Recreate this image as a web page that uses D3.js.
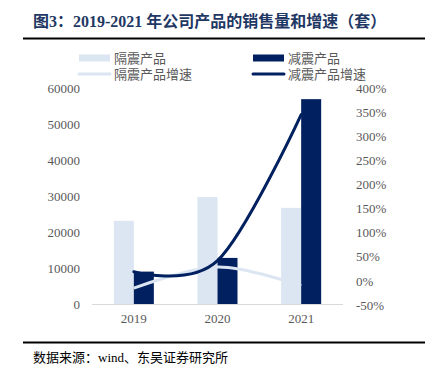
<!DOCTYPE html>
<html>
<head>
<meta charset="utf-8">
<script src="https://cdn.jsdelivr.net/npm/d3@7"></script>
<style>
  body { margin: 0; background: #fff; }
  text { font-family: "Liberation Serif", "Noto Sans CJK SC", serif; }
</style>
</head>
<body>
<script>
const w = 434;
const h = 376;

const years = ["2019", "2020", "2021"];
const isoSales = [23100, 29700, 26700];      // 隔震产品
const dampSales = [9000, 12800, 56900];      // 减震产品
const isoGrowth = [-15, 28.6, -10.1];        // 隔震产品增速 (%)
const dampGrowth = [19, 42, 345];            // 减震产品增速 (%)
const leftTicks = [0, 10000, 20000, 30000, 40000, 50000, 60000];
const rightTicks = [-50, 0, 50, 100, 150, 200, 250, 300, 350, 400];

const light = "#dce6f2";
const dark = "#002060";
const grey = "#595959";

const svg = d3.select("body")
  .append("svg")
  .attr("width", w)
  .attr("height", h);

// title + rules
svg.append("text")
  .attr("x", 33).attr("y", 27)
  .attr("font-size", 16).attr("font-weight", "bold")
  .attr("fill", "#1f3864")
  .text("图3：2019-2021 年公司产品的销售量和增速（套）");

svg.append("line").attr("x1", 23).attr("x2", 425).attr("y1", 38.5).attr("y2", 38.5)
  .attr("stroke", "#000").attr("stroke-width", 2);
svg.append("line").attr("x1", 23).attr("x2", 425).attr("y1", 342.5).attr("y2", 342.5)
  .attr("stroke", "#000").attr("stroke-width", 2);

svg.append("text")
  .attr("x", 33).attr("y", 362)
  .attr("font-size", 13).attr("fill", "#000")
  .text("数据来源：wind、东吴证券研究所");

// scales
const x = d3.scaleBand().domain(years).range([92, 343]);
const yL = d3.scaleLinear().domain([0, 60000]).range([304, 88]);
const yR = d3.scaleLinear().domain([-50, 400]).range([305, 88]);
const bw = 20;

// bars
svg.append("g").selectAll("rect")
  .data(years)
  .enter().append("rect")
  .attr("x", d => x(d) + x.bandwidth() / 2 - bw)
  .attr("y", (d, i) => yL(isoSales[i]))
  .attr("width", bw)
  .attr("height", (d, i) => yL(0) - yL(isoSales[i]))
  .attr("fill", light);

svg.append("g").selectAll("rect")
  .data(years)
  .enter().append("rect")
  .attr("x", d => x(d) + x.bandwidth() / 2)
  .attr("y", (d, i) => yL(dampSales[i]))
  .attr("width", bw)
  .attr("height", (d, i) => yL(0) - yL(dampSales[i]))
  .attr("fill", dark);

// baseline
svg.append("line")
  .attr("x1", 92).attr("x2", 343)
  .attr("y1", yL(0) + 0.5).attr("y2", yL(0) + 0.5)
  .attr("stroke", "#d9d9d9");

// growth lines
const lineGen = arr => d3.line()
  .x((d, i) => x(years[i]) + x.bandwidth() / 2)
  .y(d => yR(d))
  .curve(d3.curveCatmullRom.alpha(0))(arr);

svg.append("path").attr("d", lineGen(isoGrowth))
  .attr("fill", "none").attr("stroke", light).attr("stroke-width", 3);
svg.append("path").attr("d", lineGen(dampGrowth))
  .attr("fill", "none").attr("stroke", dark).attr("stroke-width", 3)
  .attr("stroke-linecap", "round");

// axes
const axL = svg.append("g")
  .attr("transform", "translate(80,0)")
  .call(d3.axisLeft(yL).tickValues(leftTicks).tickSize(0).tickPadding(0)
    .tickFormat(d3.format("d")));
const axR = svg.append("g")
  .attr("transform", "translate(356,0)")
  .call(d3.axisRight(yR).tickValues(rightTicks).tickSize(0).tickPadding(0)
    .tickFormat(d => d + "%"));
const axX = svg.append("g")
  .attr("transform", "translate(0,314)")
  .call(d3.axisBottom(x).tickSize(0).tickPadding(0));

[axL, axR, axX].forEach(a => {
  a.select(".domain").remove();
  a.selectAll("text").attr("font-size", 13).attr("fill", grey)
    .attr("font-family", "Liberation Serif");
});
axX.selectAll("text").attr("dy", "0.71em");

// legend
const legend = svg.append("g").attr("font-size", 13).attr("fill", grey);
const items = [
  { label: "隔震产品", color: light, kind: "rect", x: 79, y: 58 },
  { label: "减震产品", color: dark, kind: "rect", x: 253, y: 58 },
  { label: "隔震产品增速", color: light, kind: "line", x: 79, y: 74 },
  { label: "减震产品增速", color: dark, kind: "line", x: 253, y: 74 }
];
items.forEach(it => {
  if (it.kind === "rect") {
    legend.append("rect").attr("x", it.x).attr("y", it.y - 3.5)
      .attr("width", 31).attr("height", 7).attr("fill", it.color);
  } else {
    legend.append("line").attr("x1", it.x).attr("x2", it.x + 31)
      .attr("y1", it.y).attr("y2", it.y)
      .attr("stroke", it.color).attr("stroke-width", 3).attr("stroke-linecap", "round");
  }
  legend.append("text").attr("x", it.x + 35).attr("y", it.y)
    .attr("dy", "0.35em").attr("fill", grey)
    .attr("font-family", "Noto Sans CJK SC")
    .text(it.label);
});
</script>
</body>
</html>
